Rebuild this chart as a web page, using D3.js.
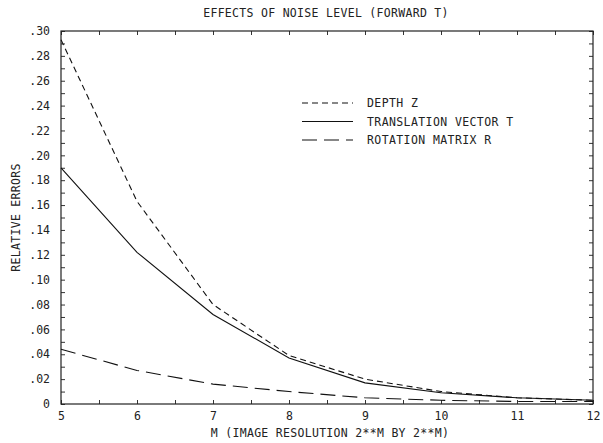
<!DOCTYPE html>
<html>
<head>
<meta charset="utf-8">
<script src="https://cdn.jsdelivr.net/npm/d3@7"></script>
<style>
  body { margin: 0; background: #fff; }
  text { font-family: "DejaVu Sans Mono", "Liberation Mono", monospace; fill: #222; }
</style>
</head>
<body>
<div id="app"></div>
<script>
const width = 603;
const height = 443;

// image resolution exponent M
const mValues = [5, 6, 7, 8, 9, 10, 11, 12];
const depthZ = [0.293, 0.163, 0.080, 0.039, 0.020, 0.010, 0.005, 0.003];
const translationT = [0.190, 0.122, 0.072, 0.037, 0.017, 0.009, 0.005, 0.003];
const rotationR = [0.044, 0.027, 0.016, 0.010, 0.005, 0.003, 0.002, 0.002];

const yTickLabels = ['0', '.02', '.04', '.06', '.08', '.10', '.12', '.14', '.16',
  '.18', '.20', '.22', '.24', '.26', '.28', '.30'];

const series = [
  {name: 'DEPTH  Z', values: depthZ, dash: '6,4'},
  {name: 'TRANSLATION VECTOR T', values: translationT, dash: null},
  {name: 'ROTATION MATRIX R', values: rotationR, dash: '15,7'},
];

const margin = {top: 31, right: 10, bottom: 39, left: 61};

const x = d3.scaleLinear().domain([5, 12]).range([margin.left, width - margin.right]);
const y = d3.scaleLinear().domain([0, 0.30]).range([height - margin.bottom, margin.top]);

const svg = d3.create('svg')
  .attr('width', width)
  .attr('height', height)
  .attr('viewBox', [0, 0, width, height]);

svg.append('rect').attr('width', width).attr('height', height).attr('fill', '#fff');

const halfSteps = d3.range(5, 12.01, 0.5);
const hundredths = d3.range(0, 0.3001, 0.01);

// bottom axis, ticks pointing inward
svg.append('g')
  .attr('transform', `translate(0,${y(0)})`)
  .call(d3.axisTop(x).tickValues(halfSteps).tickSize(4).tickFormat(''))
  .call((g)=>g.select('.domain').remove());

svg.append('g')
  .attr('transform', `translate(0,${y(0)})`)
  .call(d3.axisBottom(x).tickValues(mValues).tickSize(0).tickPadding(8).tickFormat(d3.format('d')))
  .call((g)=>g.select('.domain').remove())
  .call((g)=>g.selectAll('text').attr('font-size', 11.5).style('font-family', null));

// top axis
svg.append('g')
  .attr('transform', `translate(0,${y(0.30)})`)
  .call(d3.axisBottom(x).tickValues(halfSteps).tickSize(4).tickFormat(''))
  .call((g)=>g.select('.domain').remove());

// left axis
svg.append('g')
  .attr('transform', `translate(${x(5)},0)`)
  .call(d3.axisRight(y).tickValues(hundredths).tickSize(4).tickFormat(''))
  .call((g)=>g.select('.domain').remove());

svg.append('g')
  .attr('transform', `translate(${x(5)},0)`)
  .call(d3.axisLeft(y).tickValues(d3.range(0, 0.3001, 0.02)).tickSize(0).tickPadding(11)
    .tickFormat((d, i)=>yTickLabels[i]))
  .call((g)=>g.select('.domain').remove())
  .call((g)=>g.selectAll('text').attr('font-size', 11.5).style('font-family', null));

// right axis
svg.append('g')
  .attr('transform', `translate(${x(12)},0)`)
  .call(d3.axisLeft(y).tickValues(hundredths).tickSize(4).tickFormat(''))
  .call((g)=>g.select('.domain').remove());

svg.selectAll('.tick line').attr('stroke', '#333');

// frame
svg.append('rect')
  .attr('x', x(5)).attr('y', y(0.30))
  .attr('width', x(12) - x(5)).attr('height', y(0) - y(0.30))
  .attr('fill', 'none').attr('stroke', '#222').attr('stroke-width', 1.2);

const line = d3.line()
  .x((d, i)=>x(mValues[i]))
  .y((d)=>y(d));

svg.append('g')
  .selectAll('path')
  .data(series)
  .join('path')
  .attr('d', (d)=>line(d.values))
  .attr('fill', 'none')
  .attr('stroke', '#111')
  .attr('stroke-width', 1.1)
  .attr('stroke-dasharray', (d)=>d.dash);

// legend
const legend = svg.append('g')
  .selectAll('g')
  .data(series)
  .join('g')
  .attr('transform', (d, i)=>`translate(302,${103 + i * 18.5})`);

legend.append('line')
  .attr('x1', 0).attr('x2', 51)
  .attr('stroke', '#111').attr('stroke-width', 1.1)
  .attr('stroke-dasharray', (d)=>d.dash);

legend.append('text')
  .attr('x', 65).attr('dy', '0.35em')
  .attr('font-size', 11.5)
  .attr('letter-spacing', 0.4)
  .text((d)=>d.name);

svg.append('text')
  .attr('x', 326).attr('y', 17)
  .attr('text-anchor', 'middle')
  .attr('font-size', 11.5)
  .attr('letter-spacing', 0.3)
  .text('EFFECTS OF NOISE LEVEL (FORWARD T)');

svg.append('text')
  .attr('x', 330).attr('y', 437)
  .attr('text-anchor', 'middle')
  .attr('font-size', 11.5)
  .attr('letter-spacing', 0.3)
  .text('M (IMAGE RESOLUTION 2**M BY 2**M)');

svg.append('text')
  .attr('transform', `translate(20,${(y(0) + y(0.30)) / 2}) rotate(-90)`)
  .attr('text-anchor', 'middle')
  .attr('font-size', 11.5)
  .attr('letter-spacing', 0.3)
  .text('RELATIVE ERRORS');

document.getElementById('app').appendChild(svg.node());
</script>
</body>
</html>
